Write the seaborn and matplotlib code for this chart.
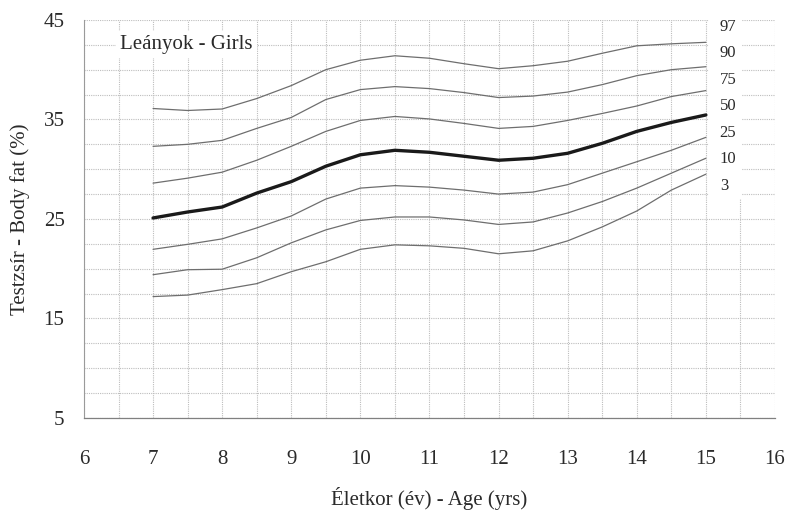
import matplotlib
matplotlib.use("Agg")
import matplotlib.pyplot as plt
from matplotlib.ticker import MultipleLocator
from matplotlib.patches import Rectangle
import seaborn as sns
import pandas as pd

# Body fat percentile curves for girls, by age (half-year steps)
ages = [7.0, 7.5, 8.0, 8.5, 9.0, 9.5, 10.0, 10.5, 11.0, 11.5, 12.0, 12.5, 13.0, 13.5, 14.0, 14.5, 15.0]
p97 = [36.1, 35.9, 36.05, 37.1, 38.4, 40.0, 40.95, 41.4, 41.15, 40.6, 40.1, 40.4, 40.85, 41.65, 42.4, 42.6, 42.75]
p90 = [32.3, 32.5, 32.9, 34.1, 35.2, 37.0, 38.0, 38.3, 38.1, 37.7, 37.2, 37.35, 37.75, 38.5, 39.4, 40.0, 40.3]
p75 = [28.6, 29.1, 29.7, 30.9, 32.3, 33.8, 34.9, 35.3, 35.05, 34.6, 34.1, 34.3, 34.9, 35.6, 36.35, 37.3, 37.9]
p50 = [25.1, 25.7, 26.2, 27.6, 28.75, 30.3, 31.45, 31.9, 31.7, 31.3, 30.9, 31.1, 31.6, 32.6, 33.8, 34.7, 35.45]
p25 = [21.95, 22.45, 23.0, 24.1, 25.3, 27.0, 28.1, 28.35, 28.2, 27.9, 27.5, 27.7, 28.45, 29.6, 30.75, 31.9, 33.2]
p10 = [19.4, 19.9, 19.95, 21.1, 22.6, 23.9, 24.85, 25.2, 25.2, 24.9, 24.45, 24.7, 25.6, 26.75, 28.1, 29.6, 31.1]
p3 = [17.2, 17.35, 17.9, 18.5, 19.7, 20.7, 21.95, 22.4, 22.3, 22.05, 21.5, 21.8, 22.8, 24.2, 25.8, 27.9, 29.5]

percentiles = ["97", "90", "75", "50", "25", "10", "3"]
curves = [p97, p90, p75, p50, p25, p10, p3]

title_text = "Leányok - Girls"
x_label = "Életkor (év) - Age (yrs)"
y_label = "Testzsír - Body fat (%)"
x_ticks = list(range(6, 17))
y_ticks = [5, 15, 25, 35, 45]

sns.set_theme(style="white")
plt.rcParams["font.family"] = ["Liberation Serif", "DejaVu Serif"]

fig = plt.figure(figsize=(7.92, 5.11), dpi=100)
ax = fig.add_axes([0.106, 0.182, 0.8725, 0.779])

rows = []
for name, vals in zip(percentiles, curves):
    for a, v in zip(ages, vals):
        rows.append({"age": a, "fat": v, "pct": name})
df = pd.DataFrame(rows)

for name in percentiles:
    sub = df[df["pct"] == name]
    if name == "50":
        sns.lineplot(data=sub, x="age", y="fat", ax=ax, color="#1a1a1a", linewidth=2.4, zorder=4)
    else:
        sns.lineplot(data=sub, x="age", y="fat", ax=ax, color="#6e6e6e", linewidth=0.9, zorder=3)

ax.set_xlim(6, 16)
ax.set_ylim(5, 45)
ax.set_xticks(x_ticks)
ax.set_yticks(y_ticks)
ax.xaxis.set_minor_locator(MultipleLocator(0.5))
ax.yaxis.set_minor_locator(MultipleLocator(2.5))
ax.grid(True, which="both", color="#bdbdbd", linestyle=(0, (1, 1)), linewidth=0.8, zorder=1)
ax.set_axisbelow(True)

for side in ["top", "right"]:
    ax.spines[side].set_visible(False)
ax.spines["left"].set_color("#9a9a9a")
ax.spines["left"].set_linestyle((0, (2, 1)))
ax.spines["left"].set_linewidth(0.8)
ax.spines["bottom"].set_color("#808080")
ax.spines["bottom"].set_linestyle((0, (4, 1)))
ax.spines["bottom"].set_linewidth(0.9)

ax.tick_params(axis="x", which="major", labelsize=15, pad=21, length=4, color="#777777", direction="inout")
ax.tick_params(axis="x", which="minor", length=4, color="#777777", direction="inout")
ax.tick_params(axis="y", which="major", labelsize=15, pad=12, length=4, color="#888888", direction="inout")
ax.tick_params(axis="y", which="minor", length=0)
for lbl in ax.get_xticklabels() + ax.get_yticklabels():
    lbl.set_color("#2a2a2a")

ax.set_xlabel(x_label, fontsize=15, color="#2a2a2a", labelpad=13)
ax.set_ylabel(y_label, fontsize=15, color="#2a2a2a", labelpad=10)

ax.text(6.52, 42.55, title_text, fontsize=15, color="#2a2a2a", ha="left", va="center",
        zorder=5, bbox=dict(facecolor="white", edgecolor="none", pad=3))

# white strip behind the percentile labels
ax.add_patch(Rectangle((15.05, 27.0), 0.47, 18.5, facecolor="white", edgecolor="none",
                       zorder=2, clip_on=False))
for i, name in enumerate(percentiles):
    ax.text(15.2, 44.3 - i * 2.66, name, fontsize=12, color="#2a2a2a", ha="left", va="center", zorder=5)

fig.savefig("out.png", dpi=100, facecolor="white")
